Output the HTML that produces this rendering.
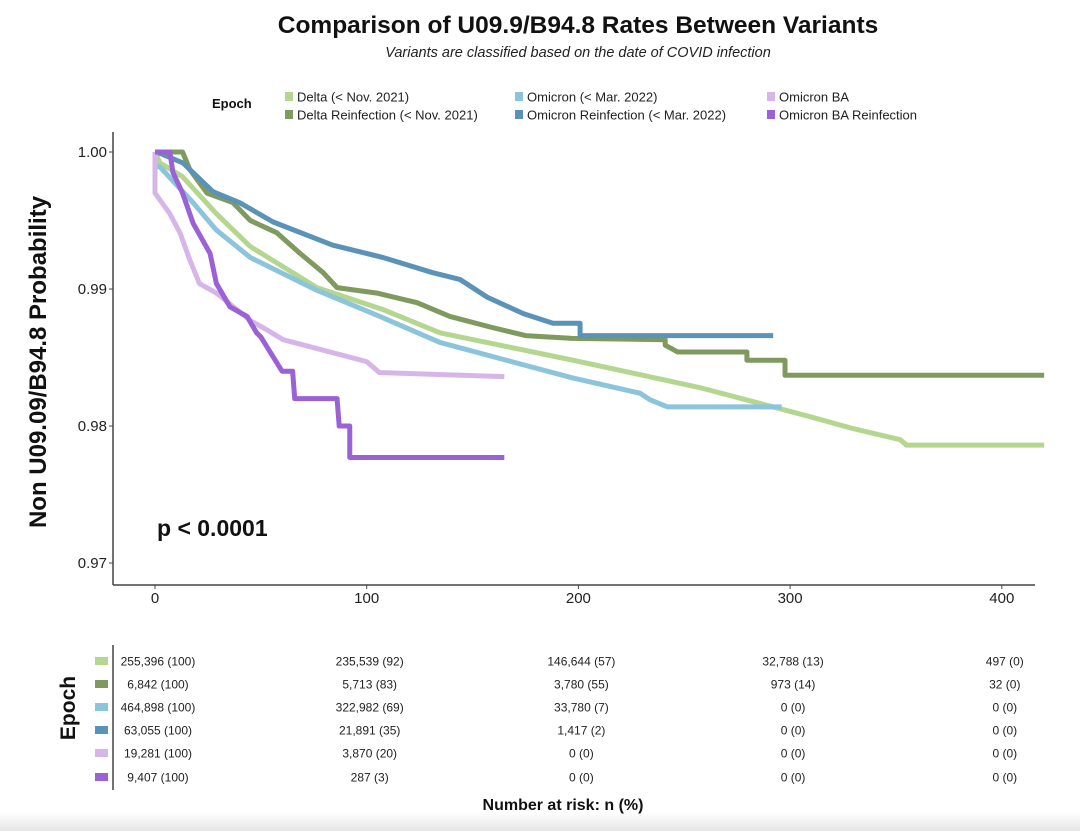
<!DOCTYPE html>
<html><head><meta charset="utf-8"><style>
body{margin:0;background:#fff;font-family:"Liberation Sans",sans-serif}
svg text{font-family:"Liberation Sans",sans-serif}
</style></head><body>
<svg id="c" width="1080" height="831" viewBox="0 0 1080 831">
<defs><linearGradient id="g" x1="0" y1="0" x2="0" y2="1"><stop offset="0" stop-color="#fff"/><stop offset="1" stop-color="#e6e6e6"/></linearGradient></defs>
<rect x="0" y="812" width="1080" height="19" fill="url(#g)"/>
<text x="578" y="33" text-anchor="middle" font-size="24.5" font-weight="bold" fill="#111">Comparison of U09.9/B94.8 Rates Between Variants</text>
<text x="578" y="57" text-anchor="middle" font-size="14.5" font-style="italic" fill="#222">Variants are classified based on the date of COVID infection</text>
<text x="212" y="108" font-size="13" font-weight="bold" fill="#111">Epoch</text>
<g id="legend"></g>
<line x1="113" y1="132" x2="113" y2="585" stroke="#444" stroke-width="1.5"/>
<line x1="113" y1="585" x2="1035" y2="585" stroke="#444" stroke-width="1.5"/>
<g id="ticks"></g>
<text transform="translate(46,362) rotate(-90)" text-anchor="middle" font-size="24" font-weight="bold" fill="#111">Non U09.09/B94.8 Probability</text>
<g id="curves"></g>
<text x="157" y="536" font-size="23" font-weight="bold" fill="#111">p &lt; 0.0001</text>
<line x1="113" y1="645" x2="113" y2="790" stroke="#444" stroke-width="1.5"/>
<text transform="translate(75,708) rotate(-90)" text-anchor="middle" font-size="21" font-weight="bold" fill="#111">Epoch</text>
<g id="risk"></g>
<text x="563" y="810" text-anchor="middle" font-size="16" font-weight="bold" fill="#111">Number at risk: n (%)</text>
</svg>
<script>
const names=["Delta (< Nov. 2021)","Delta Reinfection (< Nov. 2021)","Omicron (< Mar. 2022)","Omicron Reinfection (< Mar. 2022)","Omicron BA","Omicron BA Reinfection"];
const colors=["#b5d68f","#7f9a5e","#8cc4dc","#5b93b8","#d6b6e8","#9b62d6"];
const xTicks=[0,100,200,300,400];
const yTicks=[0.97,0.98,0.99,1.00];
const deltaT=[0,2.4,13,29,45,76.5,107.7,134.6,197.5,257.4,309,330,352,355,420];
const deltaS=[1,0.9992,0.9982,0.9955,0.9931,0.9901,0.9885,0.9868,0.9848,0.9828,0.9807,0.9798,0.979,0.9786,0.9786];
const deltaRT=[0,13,16.5,24.6,36.8,45,57.6,68.5,79.4,86,104.9,123.8,139.3,159,175,197,241,241,247,279.6,279.6,297.6,297.6,420];
const deltaRS=[1,1,0.9987,0.997,0.9963,0.995,0.9941,0.9926,0.9912,0.9901,0.9897,0.989,0.988,0.9872,0.9866,0.9864,0.9863,0.9859,0.9854,0.9854,0.9848,0.9848,0.9837,0.9837];
const omiT=[0,2.4,18,29,45,76.5,107.7,134.6,166,197.5,229,234,242,296];
const omiS=[0.999,0.9989,0.9963,0.9943,0.9923,0.9899,0.9879,0.9861,0.9848,0.9835,0.9824,0.9819,0.9814,0.9814];
const omiRT=[0,2.4,13.2,27.4,40,55.7,84,107.7,131,144,157,174,188,200.8,200.8,292];
const omiRS=[1,0.9999,0.9992,0.9971,0.9963,0.9949,0.9932,0.9923,0.9912,0.9907,0.9894,0.9882,0.9875,0.9875,0.9866,0.9866];
const baT=[0,0,7,11.8,16.5,21,29,45,53,60.5,68,100,106,165];
const baS=[1,0.997,0.9955,0.9941,0.9921,0.9904,0.9897,0.9877,0.987,0.9863,0.986,0.9847,0.9839,0.9836];
const baRT=[0,7,8.5,13,18,26,29,35.4,43.5,48,50,54,58,60,65,66,86,87,92,92,165];
const baRS=[1,1,0.9985,0.997,0.9948,0.9926,0.9904,0.9887,0.988,0.9868,0.9865,0.9855,0.9845,0.984,0.984,0.982,0.982,0.980,0.980,0.9777,0.9777];
const riskN=[["255,396 (100)","235,539 (92)","146,644 (57)","32,788 (13)","497 (0)"],
["6,842 (100)","5,713 (83)","3,780 (55)","973 (14)","32 (0)"],
["464,898 (100)","322,982 (69)","33,780 (7)","0 (0)","0 (0)"],
["63,055 (100)","21,891 (35)","1,417 (2)","0 (0)","0 (0)"],
["19,281 (100)","3,870 (20)","0 (0)","0 (0)","0 (0)"],
["9,407 (100)","287 (3)","0 (0)","0 (0)","0 (0)"]];
const NS="http://www.w3.org/2000/svg";
const X=d=>155+d*2.117, Y=v=>152+(1-v)*13700;
function mk(t,a,p){const e=document.createElementNS(NS,t);for(const k in a)e.setAttribute(k,a[k]);p.appendChild(e);return e;}
const tk=document.getElementById('ticks');
xTicks.forEach(t=>{const l=mk('line',{x1:X(t),y1:585,x2:X(t),y2:589,stroke:'#444'},tk);


const e=mk('text',{x:X(t),y:603,'text-anchor':'middle','font-size':15,fill:'#222'},tk);e.textContent=t;

});
yTicks.forEach(t=>{const l=mk('line',{x1:109,y1:Y(t),x2:113,y2:Y(t),stroke:'#444'},tk);


const e=mk('text',{x:107,y:Y(t)+5,'text-anchor':'end','font-size':15,fill:'#222'},tk);e.textContent=t.toFixed(2);

});
const series=[[deltaT,deltaS],[deltaRT,deltaRS],[omiT,omiS],[omiRT,omiRS],[baT,baS],[baRT,baRS]];
const cv=document.getElementById('curves');
[0,2,1,3,4,5].forEach(i=>{const [T,S]=series[i];let d='M'+X(T[0])+','+Y(S[0]);
for(let k=1;k<T.length;k++){d+=' L'+X(T[k])+','+Y(S[k]);}
const p=mk('path',{d:d,fill:'none',stroke:colors[i],'stroke-width':5,'stroke-linejoin':'round'},cv);

});
const lg=document.getElementById('legend');
const lx=[285,515,767];
names.forEach((n,i)=>{const c=Math.floor(i/2),r=i%2;const y=r?115:97;
const s=mk('rect',{x:lx[c],y:y-5,width:8,height:9,fill:colors[i]},lg);


const t=mk('text',{x:lx[c]+12,y:y+4.5,'font-size':13,fill:'#222'},lg);t.textContent=n;

});
const rk=document.getElementById('risk');
const ry=[661,684,707,730,753,777];
riskN.forEach((row,i)=>{const s=mk('rect',{x:95,y:ry[i]-4,width:13,height:8,fill:colors[i]},rk);


row.forEach((v,j)=>{const t=mk('text',{x:X(xTicks[j])+3,y:ry[i]+4.5,'text-anchor':'middle','font-size':12,fill:'#222'},rk);t.textContent=v;

});});
</script>
</body></html>
